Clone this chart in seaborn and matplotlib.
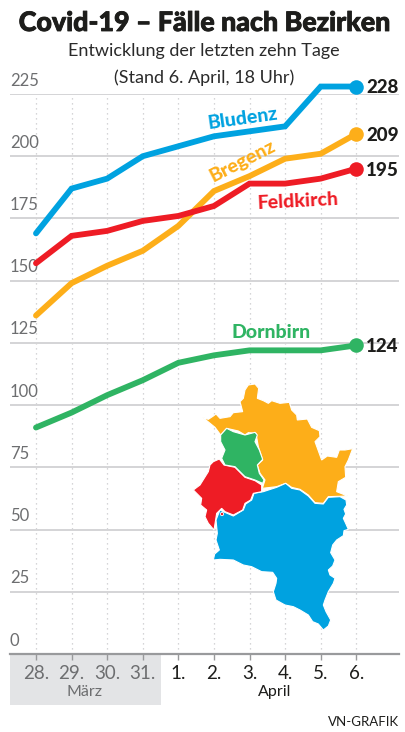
import matplotlib
matplotlib.use("Agg")
import matplotlib.pyplot as plt
import matplotlib.patheffects as pe
from matplotlib.patches import Circle, Polygon, Rectangle
import pandas as pd
import seaborn as sns

days = ["28.", "29.", "30.", "31.", "1.", "2.", "3.", "4.", "5.", "6."]
bludenz = [169, 187, 191, 200, 204, 208, 210, 212, 228, 228]
bregenz = [136, 149, 156, 162, 172, 186, 192, 199, 201, 209]
feldkirch = [157, 168, 170, 174, 176, 180, 189, 189, 191, 195]
dornbirn = [91, 97, 104, 110, 117, 120, 122, 122, 122, 124]
y_ticks = [0, 25, 50, 75, 100, 125, 150, 175, 200, 225]

colors = {"Bludenz": "#00a2e0", "Bregenz": "#fdae19", "Feldkirch": "#ee1c25", "Dornbirn": "#2fb463"}

# map outlines, traced in a 570x810 box
map_bregenz = [(68,142),(85,148),(100,138),(108,132),(120,145),(150,140),(160,128),(188,125),(180,95),(190,85),(195,60),(205,45),(225,42),(236,55),(232,85),(250,92),(265,100),(275,92),(300,100),(328,97),(335,120),(350,135),(352,150),(382,147),(395,172),(418,182),(420,200),(405,215),(425,270),(442,258),(470,262),(478,240),(495,240),(518,236),(505,270),(495,290),(497,322),(475,335),(470,365),(503,378),(445,380),(430,400),(405,398),(385,375),(360,358),(335,352),(317,340),(290,350),(247,355),(255,330),(240,310),(232,285),(248,270),(235,230),(228,190),(205,188),(195,195),(175,183),(140,175),(122,195),(105,172)]
map_dornbirn = [(122,195),(140,175),(160,185),(195,195),(225,187),(232,195),(225,215),(238,240),(248,268),(232,285),(238,310),(252,330),(248,340),(225,330),(195,320),(165,290),(135,285),(125,265),(135,240),(122,215)]
map_feldkirch = [(40,360),(60,345),(85,305),(90,285),(100,275),(118,267),(132,285),(165,292),(195,322),(225,332),(245,345),(245,365),(220,370),(212,390),(195,400),(188,420),(160,435),(135,425),(125,415),(110,430),(102,480),(85,460),(75,440),(80,420),(62,405),(65,385)]
map_bludenz = [(250,365),(290,352),(317,340),(335,355),(360,360),(385,378),(405,400),(430,402),(445,382),(480,380),(498,390),(500,405),(492,418),(497,432),(490,445),(497,460),(505,478),(492,482),(490,497),(470,510),(458,525),(452,548),(465,570),(458,588),(445,600),(450,615),(465,625),(460,640),(445,665),(435,690),(430,705),(438,725),(452,750),(445,768),(430,780),(415,762),(398,755),(385,735),(360,720),(340,710),(315,705),(288,690),(280,665),(288,640),(290,625),(278,607),(245,605),(215,590),(190,585),(160,570),(120,568),(100,570),(104,552),(118,540),(108,510),(112,490),(108,450),(120,420),(130,425),(160,438),(190,420),(197,402),(215,390),(222,370)]
map_dot = (126, 432)

W, H = 405, 732

sns.set_theme(style="white")
plt.rcParams["font.family"] = ["Lato", "DejaVu Sans"]

df = pd.DataFrame({"day": list(range(len(days))), "Bludenz": bludenz, "Bregenz": bregenz,
                   "Feldkirch": feldkirch, "Dornbirn": dornbirn})
long = df.melt(id_vars="day", var_name="bezirk", value_name="faelle")

fig = plt.figure(figsize=(W / 100, H / 100), dpi=100)
ax = fig.add_axes([10 / W, 1 - 654 / H, 389 / W, 560 / H])

sns.lineplot(data=long, x="day", y="faelle", hue="bezirk", palette=colors, linewidth=4.2,
             legend=False, ax=ax, clip_on=False, solid_joinstyle="miter", zorder=3)
for name, vals in [("Bludenz", bludenz), ("Bregenz", bregenz), ("Feldkirch", feldkirch), ("Dornbirn", dornbirn)]:
    ax.scatter(len(days) - 1, vals[-1], s=110, color=colors[name], zorder=4, clip_on=False, linewidths=0)
    ax.annotate(str(vals[-1]), (len(days) - 1, vals[-1]), xytext=(7, -1), textcoords="offset points",
                fontsize=13.5, fontweight="black", color="#1d1d1b", va="center", ha="left",
                annotation_clip=False)

ax.set_xlim(-0.73, 10.2)
ax.set_ylim(0, 225)
ax.set_xticks(range(len(days)))
ax.set_xticklabels(days, fontsize=13.5)
ax.set_yticks(y_ticks)
ax.set_yticklabels([])
ax.set_xlabel("")
ax.set_ylabel("")
ax.tick_params(axis="x", length=4, width=1, color="#999a9c", pad=4, bottom=True)
ax.tick_params(axis="y", length=0)
for i, lab in enumerate(ax.get_xticklabels()):
    lab.set_color("#6d6e70" if i < 4 else "#1d1d1b")
ax.grid(axis="y", color="#d4d4d6", linewidth=1.4, zorder=0)
ax.grid(axis="x", color="#c8c8ca", linewidth=0.9, linestyle=(0, (1, 3)), zorder=0)
ax.set_axisbelow(True)
sns.despine(ax=ax, left=True, top=True, right=True)
ax.spines["bottom"].set_color("#999a9c")
ax.spines["bottom"].set_linewidth(1.6)

for v in y_ticks:
    ax.text(0, v + 2.2, str(v), transform=ax.get_yaxis_transform(), fontsize=12, color="#6d6e70",
            ha="left", va="bottom", zorder=2)

# series names
def series_label(x, y, name, rot):
    ax.text(x, y, name, color=colors[name], fontsize=14, fontweight="black", rotation=rot, ha="center",
            va="center", rotation_mode="anchor")

series_label(5.8, 215, "Bludenz", 8)
series_label(5.8, 198, "Bregenz", 27)
series_label(7.35, 182, "Feldkirch", 3)
series_label(6.6, 129, "Dornbirn", 0)

# grey band below the March days
fig.add_artist(Rectangle((10 / W, 1 - 705 / H), 151 / W, 50 / H, transform=fig.transFigure,
                         facecolor="#e3e4e6", edgecolor="none", zorder=-1))

fig.text(85 / W, 1 - 692 / H, "März", fontsize=11.5, color="#6d6e70", ha="center", va="center")
fig.text(275 / W, 1 - 692 / H, "April", fontsize=11.5, color="#1d1d1b", ha="center", va="center")
fig.text(399 / W, 1 - 722 / H, "VN-GRAFIK", fontsize=9.5, color="#1d1d1b", ha="right", va="center")

fig.text(204 / W, 1 - 23 / H, "Covid-19 – Fälle nach Bezirken", fontsize=19.3, fontweight="black",
         color="#1d1d1b", ha="center", va="center",
         path_effects=[pe.withStroke(linewidth=0.6, foreground="#1d1d1b")])
fig.text(204 / W, 1 - 51 / H, "Entwicklung der letzten zehn Tage", fontsize=13, color="#2a2a2a", ha="center", va="center")
fig.text(204 / W, 1 - 78 / H, "(Stand 6. April, 18 Uhr)", fontsize=13, color="#2a2a2a", ha="center", va="center")

# map on top of the grid
mp = fig.add_axes([180 / W, 1 - 640 / H, 190 / W, 270 / H])
mp.set_xlim(0, 570)
mp.set_ylim(810, 0)
mp.axis("off")
mp.patch.set_alpha(0)
for pts, name in [(map_bregenz, "Bregenz"), (map_bludenz, "Bludenz"), (map_feldkirch, "Feldkirch"), (map_dornbirn, "Dornbirn")]:
    mp.add_patch(Polygon(pts, closed=True, facecolor=colors[name], edgecolor="white", linewidth=0.8))
mp.add_patch(Circle(map_dot, 5, facecolor=colors["Feldkirch"], edgecolor="white", linewidth=0.6))

fig.savefig("out.png", dpi=100, facecolor="white")
